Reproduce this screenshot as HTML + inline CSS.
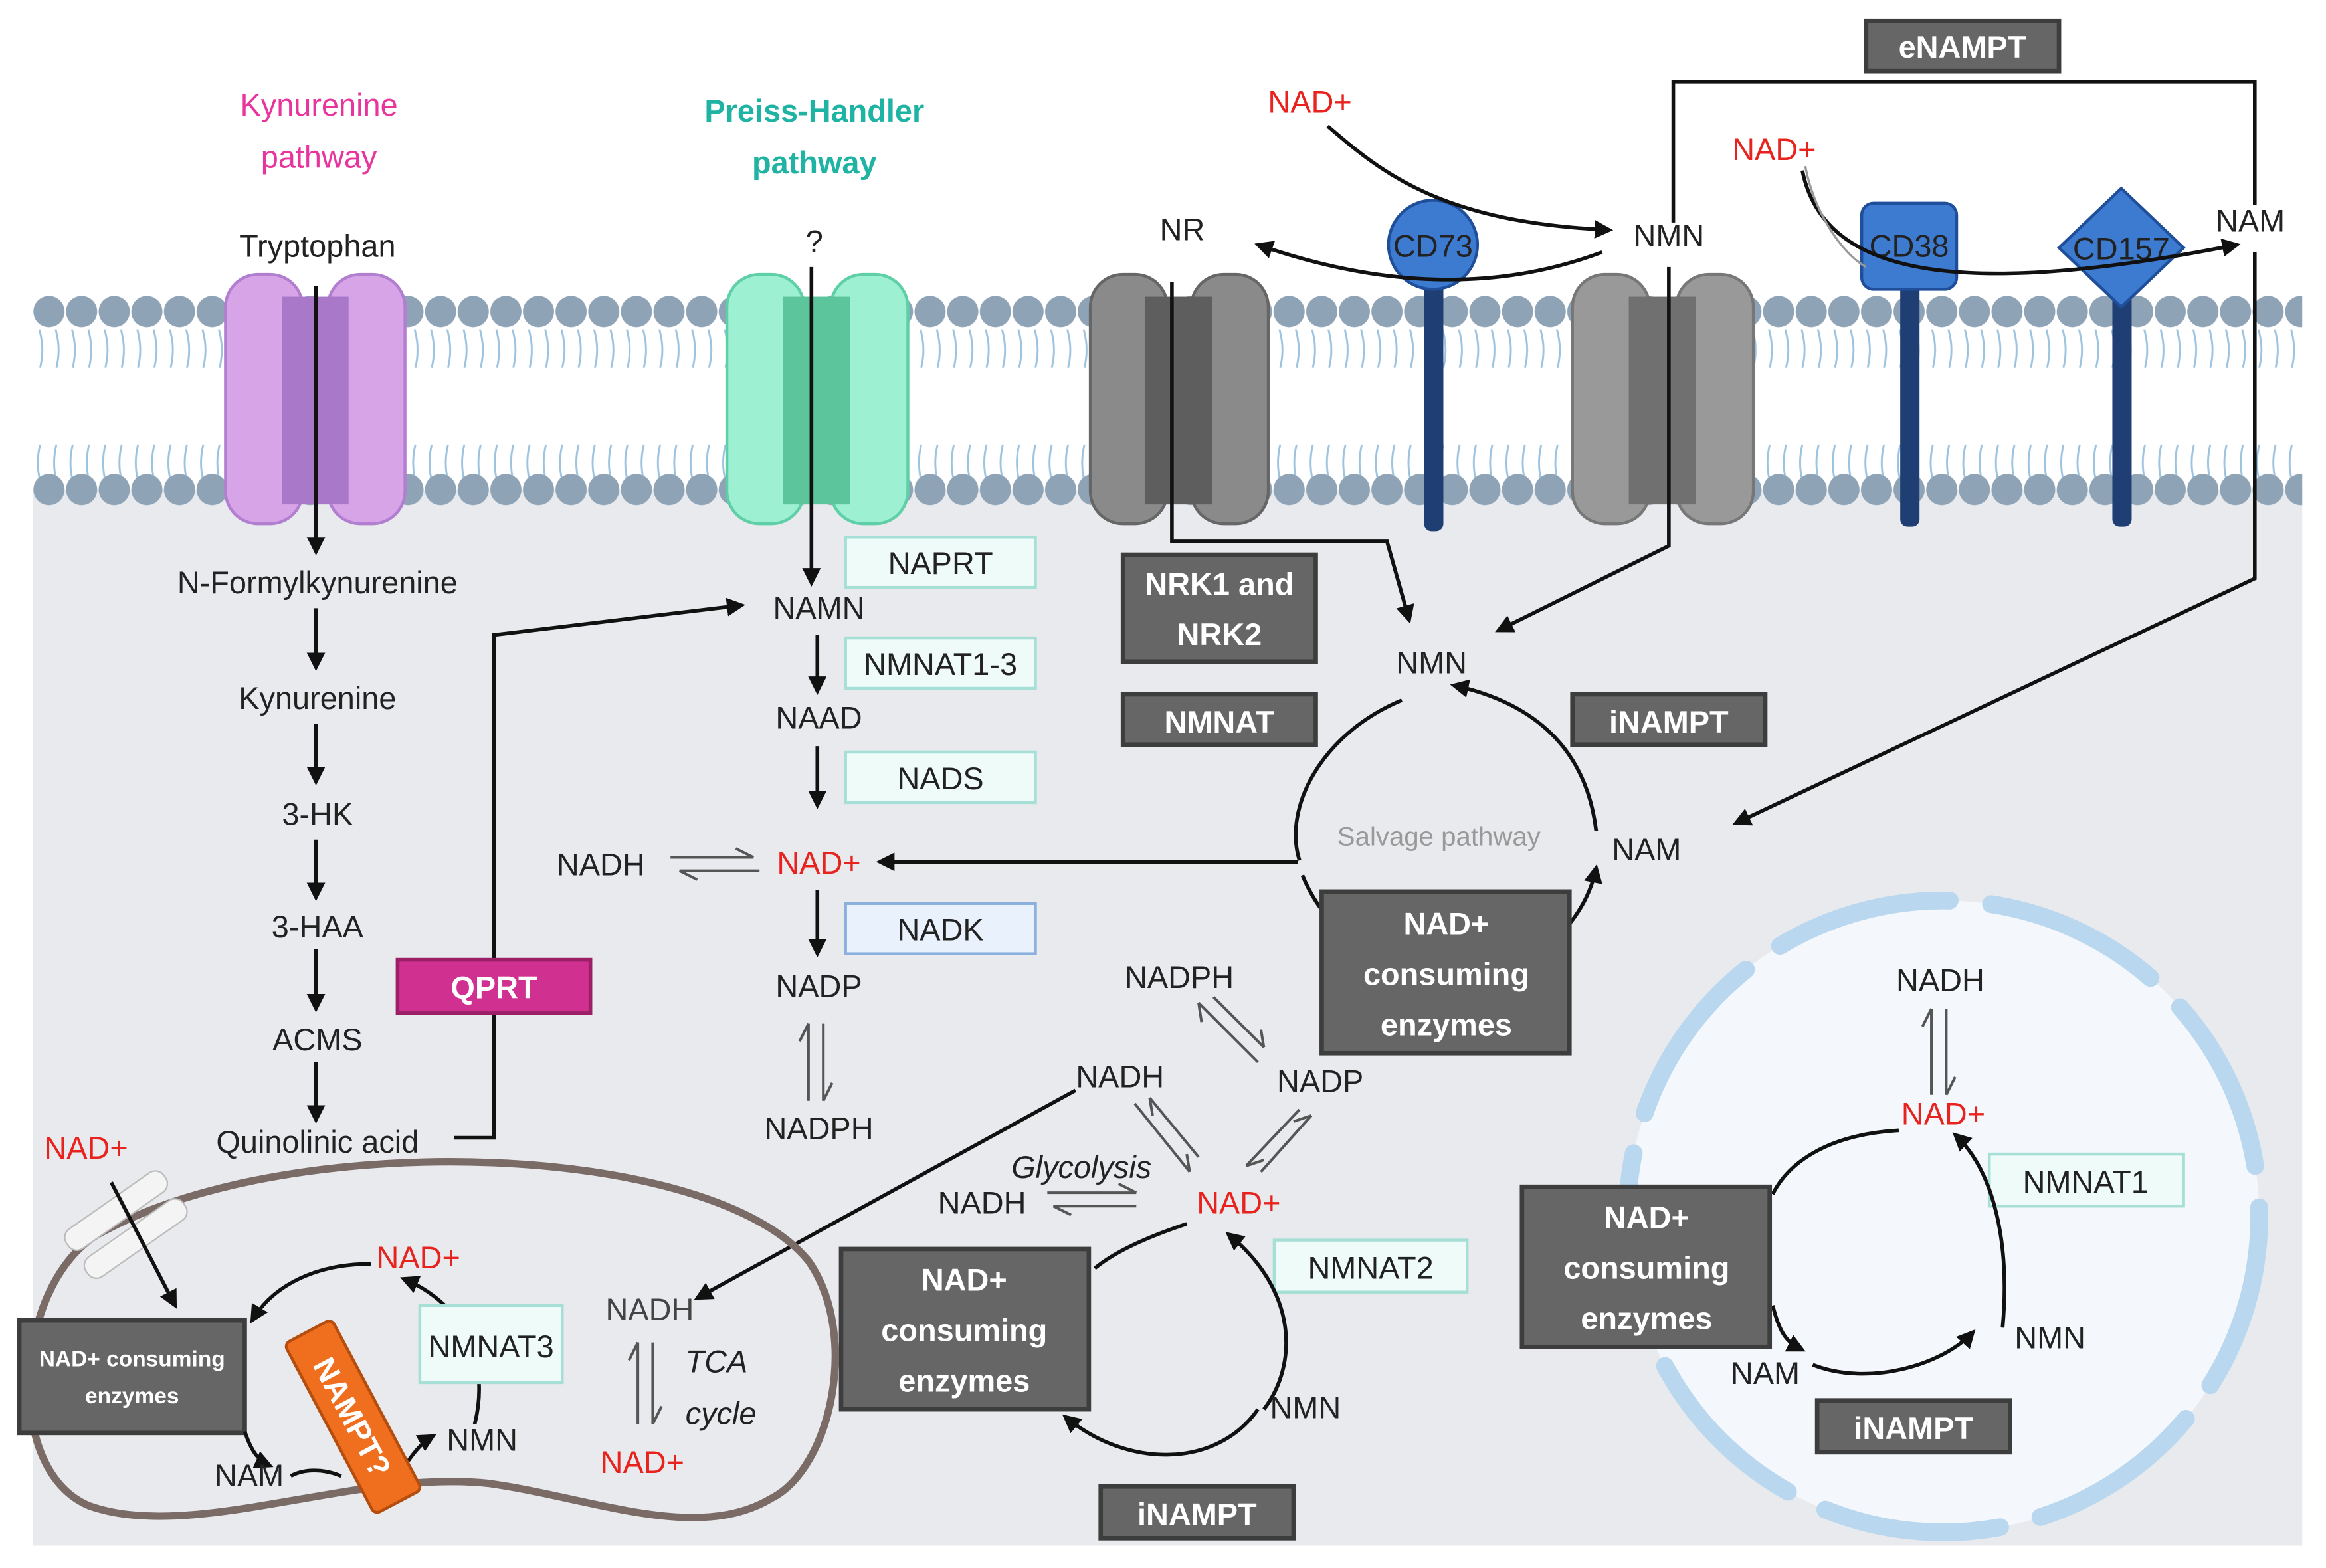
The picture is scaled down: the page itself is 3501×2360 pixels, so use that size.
<!DOCTYPE html>
<html><head><meta charset="utf-8"><style>
html,body{margin:0;padding:0;background:#fff}
svg{display:block}
text{font-family:"Liberation Sans",sans-serif}
.t{font-size:21px;fill:#222}
.r{font-size:21px;fill:#e8231e}
.w{font-size:21px;fill:#fff;font-weight:bold}
.db{fill:#666;stroke:#3d3d3d;stroke-width:3}
.lb{fill:#effbf9;stroke:#a6dfd5;stroke-width:2}
.ar{stroke:#111;stroke-width:2.5;fill:none}
</style></head><body>
<svg width="3501" height="2360" viewBox="0 0 1568 1057" xmlns="http://www.w3.org/2000/svg">
<defs>
<marker id="a" viewBox="0 0 10 10" refX="8" refY="5" markerWidth="5" markerHeight="5" orient="auto"><path d="M0,0L10,5L0,10z" fill="#111"/></marker>
<pattern id="heads" x="22" y="195" width="22" height="150" patternUnits="userSpaceOnUse"><circle cx="11" cy="15" r="10.5" fill="#8fa3b6"/><circle cx="11" cy="135" r="10.5" fill="#8fa3b6"/></pattern>
<pattern id="tails" x="22" y="0" width="11" height="100" patternUnits="userSpaceOnUse"><path d="M5,0 Q2,12 5,24 Q8,36 5,48" stroke="#9cc3e0" stroke-width="1.3" fill="none"/></pattern>
</defs>
<rect x="22" y="330" width="1530" height="712" fill="#e8eaed"/>
<!-- membrane -->
<rect x="22" y="222" width="1530" height="48" fill="url(#tails)"/>
<rect x="22" y="274" width="1530" height="48" fill="url(#tails)"/>
<rect x="22" y="195" width="1530" height="150" fill="url(#heads)"/>
<!-- transporters -->
<g><rect x="152" y="185" width="52" height="168" rx="22" fill="#d8a4e8" stroke="#b27fd0" stroke-width="2"/><rect x="221" y="185" width="52" height="168" rx="22" fill="#d8a4e8" stroke="#b27fd0" stroke-width="2"/><rect x="190" y="200" width="45" height="140" fill="#a978c9"/></g>
<g><rect x="490" y="185" width="52" height="168" rx="22" fill="#9ef0d3" stroke="#5fcfa8" stroke-width="2"/><rect x="560" y="185" width="52" height="168" rx="22" fill="#9ef0d3" stroke="#5fcfa8" stroke-width="2"/><rect x="528" y="200" width="45" height="140" fill="#5cc59c"/></g>
<g><rect x="735" y="185" width="52" height="168" rx="22" fill="#8a8a8a" stroke="#666" stroke-width="2"/><rect x="803" y="185" width="52" height="168" rx="22" fill="#8a8a8a" stroke="#666" stroke-width="2"/><rect x="772" y="200" width="45" height="140" fill="#5e5e5e"/></g>
<g><rect x="1060" y="185" width="52" height="168" rx="22" fill="#999" stroke="#777" stroke-width="2"/><rect x="1130" y="185" width="52" height="168" rx="22" fill="#999" stroke="#777" stroke-width="2"/><rect x="1098" y="200" width="45" height="140" fill="#707070"/></g>
<!-- CD proteins -->
<rect x="960" y="180" width="13" height="178" rx="5" fill="#1f3e73"/>
<circle cx="966" cy="165" r="30" fill="#3d7bd0" stroke="#1f4f9a" stroke-width="2"/>
<text x="966" y="173" class="t" text-anchor="middle">CD73</text>
<rect x="1281" y="185" width="13" height="170" rx="5" fill="#1f3e73"/>
<rect x="1255" y="137" width="64" height="58" rx="8" fill="#3d7bd0" stroke="#1f4f9a" stroke-width="2"/>
<text x="1287" y="173" class="t" text-anchor="middle">CD38</text>
<rect x="1424" y="195" width="13" height="160" rx="5" fill="#1f3e73"/>
<path d="M1430,127 L1472,167 L1430,207 L1388,167z" fill="#3d7bd0" stroke="#1f4f9a" stroke-width="2"/>
<text x="1430" y="175" class="t" text-anchor="middle">CD157</text>
<!-- headings -->
<text x="215" y="78" font-size="21" fill="#e8359d" text-anchor="middle">Kynurenine</text>
<text x="215" y="113" font-size="21" fill="#e8359d" text-anchor="middle">pathway</text>
<text x="549" y="82" font-size="21" fill="#1fb3a3" font-weight="bold" text-anchor="middle">Preiss-Handler</text>
<text x="549" y="117" font-size="21" fill="#1fb3a3" font-weight="bold" text-anchor="middle">pathway</text>
<text x="214" y="173" class="t" text-anchor="middle">Tryptophan</text>
<text x="549" y="170" class="t" text-anchor="middle">?</text>
<!-- eNAMPT -->
<rect x="1258" y="14" width="130" height="34" class="db"/>
<text x="1323" y="39" class="w" text-anchor="middle">eNAMPT</text>
<path d="M1128,150 V55 H1520 V138" class="ar"/>
<text x="1517" y="156" class="t" text-anchor="middle">NAM</text>
<path d="M1520,170 V390 L1170,555" class="ar" marker-end="url(#a)"/>
<text x="883" y="76" class="r" text-anchor="middle">NAD+</text>
<text x="1196" y="108" class="r" text-anchor="middle">NAD+</text>
<path d="M895,85 C930,115 970,150 1085,155" class="ar" marker-end="url(#a)"/>
<text x="1125" y="166" class="t" text-anchor="middle">NMN</text>
<text x="797" y="162" class="t" text-anchor="middle">NR</text>
<path d="M1080,170 C1000,200 920,190 848,165" class="ar" marker-end="url(#a)"/>
<path d="M1215,115 C1230,190 1330,200 1508,165" stroke="#111" stroke-width="2.5" fill="none" marker-end="url(#a)"/>
<path d="M1217,112 C1222,140 1240,170 1258,180" stroke="#999" stroke-width="1.5" fill="none"/>
<!-- kynurenine chain -->
<path d="M213,193 V372" class="ar" marker-end="url(#a)"/>
<text x="214" y="400" class="t" text-anchor="middle">N-Formylkynurenine</text>
<path d="M213,410 V450" class="ar" marker-end="url(#a)"/>
<text x="214" y="478" class="t" text-anchor="middle">Kynurenine</text>
<path d="M213,488 V527" class="ar" marker-end="url(#a)"/>
<text x="214" y="556" class="t" text-anchor="middle">3-HK</text>
<path d="M213,566 V605" class="ar" marker-end="url(#a)"/>
<text x="214" y="632" class="t" text-anchor="middle">3-HAA</text>
<path d="M213,640 V680" class="ar" marker-end="url(#a)"/>
<text x="214" y="708" class="t" text-anchor="middle">ACMS</text>
<path d="M213,716 V755" class="ar" marker-end="url(#a)"/>
<text x="214" y="777" class="t" text-anchor="middle">Quinolinic acid</text>
<path d="M306,767 H333 V428 L500,408" class="ar" marker-end="url(#a)"/>
<rect x="268" y="647" width="130" height="36" fill="#d0308f" stroke="#9a1f66" stroke-width="2.5"/>
<text x="333" y="673" class="w" text-anchor="middle">QPRT</text>
<!-- Preiss-Handler chain -->
<path d="M547,180 V393" class="ar" marker-end="url(#a)"/>
<rect x="570" y="362" width="128" height="34" class="lb"/><text x="634" y="387" class="t" text-anchor="middle">NAPRT</text>
<text x="552" y="417" class="t" text-anchor="middle">NAMN</text>
<path d="M551,428 V466" class="ar" marker-end="url(#a)"/>
<rect x="570" y="430" width="128" height="34" class="lb"/><text x="634" y="455" class="t" text-anchor="middle">NMNAT1-3</text>
<text x="552" y="491" class="t" text-anchor="middle">NAAD</text>
<path d="M551,503 V543" class="ar" marker-end="url(#a)"/>
<rect x="570" y="507" width="128" height="34" class="lb"/><text x="634" y="532" class="t" text-anchor="middle">NADS</text>
<text x="552" y="589" class="r" text-anchor="middle">NAD+</text>
<text x="405" y="590" class="t" text-anchor="middle">NADH</text>
<path d="M452,578 H508 M496,572 L508,578 M458,587 H512 M458,587 L470,593" stroke="#555" stroke-width="1.8" fill="none"/>
<path d="M551,600 V643" class="ar" marker-end="url(#a)"/>
<rect x="570" y="609" width="128" height="34" fill="#e8f1fc" stroke="#8cb0dd" stroke-width="2"/><text x="634" y="634" class="t" text-anchor="middle">NADK</text>
<text x="552" y="672" class="t" text-anchor="middle">NADP</text>
<path d="M545,690 V742 M545,690 L539,702 M555,690 V742 M555,742 L561,730" stroke="#555" stroke-width="1.8" fill="none"/>
<text x="552" y="768" class="t" text-anchor="middle">NADPH</text>
<path d="M875,581 H593" class="ar" marker-end="url(#a)"/>
<!-- salvage -->
<path d="M790,190 V365 H935 L950,418" class="ar" marker-end="url(#a)"/>
<path d="M1125,180 V368 L1010,425" class="ar" marker-end="url(#a)"/>
<rect x="757" y="374" width="130" height="72" class="db"/>
<text x="822" y="401" class="w" text-anchor="middle">NRK1 and</text><text x="822" y="435" class="w" text-anchor="middle">NRK2</text>
<text x="965" y="454" class="t" text-anchor="middle">NMN</text>
<rect x="757" y="468" width="130" height="34" class="db"/><text x="822" y="494" class="w" text-anchor="middle">NMNAT</text>
<rect x="1060" y="468" width="130" height="34" class="db"/><text x="1125" y="494" class="w" text-anchor="middle">iNAMPT</text>
<path d="M945,472 C890,495 865,545 876,580" class="ar"/>
<path d="M1076,560 C1070,510 1040,475 980,462" class="ar" marker-end="url(#a)"/>
<path d="M878,590 C890,620 915,640 935,650" class="ar"/>
<path d="M1040,640 C1060,625 1072,605 1076,585" class="ar" marker-end="url(#a)"/>
<text x="970" y="570" font-size="18" fill="#999" text-anchor="middle">Salvage pathway</text>
<text x="1110" y="580" class="t" text-anchor="middle">NAM</text>
<rect x="891" y="601" width="167" height="109" class="db"/>
<text x="975" y="630" class="w" text-anchor="middle">NAD+</text><text x="975" y="664" class="w" text-anchor="middle">consuming</text><text x="975" y="698" class="w" text-anchor="middle">enzymes</text>
<!-- cytosol NADP cycle -->
<text x="795" y="666" class="t" text-anchor="middle">NADPH</text>
<path d="M808,676 L848,716 M808,676 L810,689 M818,672 L852,706 M852,706 L850,694" stroke="#555" stroke-width="1.8" fill="none"/>
<text x="890" y="736" class="t" text-anchor="middle">NADP</text>
<text x="755" y="733" class="t" text-anchor="middle">NADH</text>
<path d="M876,748 L840,786 M840,786 L852,782 M884,752 L850,790 M884,752 L872,756" stroke="#555" stroke-width="1.8" fill="none"/>
<path d="M765,744 L802,790 M802,790 L800,778 M775,740 L808,780 M775,740 L777,752" stroke="#555" stroke-width="1.8" fill="none"/>
<text x="729" y="794" font-size="21" font-style="italic" fill="#222" text-anchor="middle">Glycolysis</text>
<text x="662" y="818" class="t" text-anchor="middle">NADH</text>
<path d="M706,804 H766 M754,798 L766,804 M710,813 H766 M710,813 L722,819" stroke="#555" stroke-width="1.8" fill="none"/>
<text x="835" y="818" class="r" text-anchor="middle">NAD+</text>
<path d="M725,735 L470,875" class="ar" marker-end="url(#a)"/>
<rect x="859" y="836" width="130" height="35" class="lb"/><text x="924" y="862" class="t" text-anchor="middle">NMNAT2</text>
<path d="M800,825 C770,835 750,845 738,855" class="ar"/>
<path d="M852,950 C875,920 875,870 828,832" class="ar" marker-end="url(#a)"/>
<path d="M848,950 C820,990 760,990 718,955" class="ar" marker-end="url(#a)"/>
<text x="880" y="956" class="t" text-anchor="middle">NMN</text>
<rect x="567" y="842" width="167" height="108" class="db"/>
<text x="650" y="870" class="w" text-anchor="middle">NAD+</text><text x="650" y="904" class="w" text-anchor="middle">consuming</text><text x="650" y="938" class="w" text-anchor="middle">enzymes</text>
<rect x="742" y="1002" width="130" height="35" class="db"/><text x="807" y="1028" class="w" text-anchor="middle">iNAMPT</text>
<!-- mitochondrion -->
<path d="M70,830 C200,760 480,770 545,850 C580,900 560,990 520,1010 C470,1040 400,1010 330,1000 C240,990 130,1040 60,1015 C0,990 10,860 70,830z" fill="none" stroke="#7b6b66" stroke-width="5"/>
<text x="58" y="781" class="r" text-anchor="middle">NAD+</text>
<g transform="rotate(-35 88 830)"><rect x="48" y="805" width="80" height="16" rx="7" fill="#f4f4f4" stroke="#bbb"/><rect x="48" y="828" width="80" height="16" rx="7" fill="#f4f4f4" stroke="#bbb"/></g>
<path d="M75,797 L118,880" class="ar" marker-end="url(#a)"/>
<text x="282" y="855" class="r" text-anchor="middle">NAD+</text>
<rect x="13" y="890" width="152" height="76" class="db"/>
<text x="89" y="921" font-size="15" fill="#fff" font-weight="bold" text-anchor="middle">NAD+ consuming</text>
<text x="89" y="946" font-size="15" fill="#fff" font-weight="bold" text-anchor="middle">enzymes</text>
<path d="M250,852 C215,852 185,865 170,890" class="ar" marker-end="url(#a)"/>
<path d="M165,965 C170,980 175,985 182,988" class="ar" marker-end="url(#a)"/>
<text x="168" y="1002" class="t" text-anchor="middle">NAM</text>
<path d="M196,995 C205,990 218,990 230,995" class="ar"/>
<path d="M275,985 C280,978 285,972 292,968" class="ar" marker-end="url(#a)"/>
<text x="325" y="978" class="t" text-anchor="middle">NMN</text>
<path d="M320,960 C330,920 315,880 272,862" class="ar" marker-end="url(#a)"/>
<rect x="283" y="880" width="96" height="52" class="lb"/><text x="331" y="915" class="t" text-anchor="middle">NMNAT3</text>
<g transform="rotate(62 238 955)"><rect x="173" y="937" width="130" height="36" rx="4" fill="#ef6f1f" stroke="#b54d0f" stroke-width="2"/><text x="238" y="963" class="w" text-anchor="middle">NAMPT?</text></g>
<text x="438" y="890" font-size="21" fill="#444" text-anchor="middle">NADH</text>
<path d="M430,905 V960 M430,905 L424,917 M440,905 V960 M440,960 L446,948" stroke="#555" stroke-width="1.8" fill="none"/>
<text x="483" y="925" font-size="21" font-style="italic" fill="#222" text-anchor="middle">TCA</text>
<text x="486" y="960" font-size="21" font-style="italic" fill="#222" text-anchor="middle">cycle</text>
<text x="433" y="993" class="r" text-anchor="middle">NAD+</text>
<!-- nucleus -->
<circle cx="1310" cy="820" r="213" fill="#f4f8fc"/>
<circle cx="1310" cy="820" r="213" fill="none" stroke="#b9d7ee" stroke-width="12" stroke-dasharray="120 28" stroke-linecap="round"/>
<text x="1308" y="668" class="t" text-anchor="middle">NADH</text>
<path d="M1302,680 V738 M1302,680 L1296,692 M1312,680 V738 M1312,738 L1318,726" stroke="#555" stroke-width="1.8" fill="none"/>
<text x="1310" y="758" class="r" text-anchor="middle">NAD+</text>
<rect x="1341" y="778" width="131" height="35" class="lb"/><text x="1406" y="804" class="t" text-anchor="middle">NMNAT1</text>
<path d="M1280,762 C1230,765 1205,785 1195,805" class="ar"/>
<path d="M1350,895 C1355,840 1345,790 1318,765" class="ar" marker-end="url(#a)"/>
<text x="1382" y="909" class="t" text-anchor="middle">NMN</text>
<path d="M1195,880 C1200,900 1205,905 1215,910" class="ar" marker-end="url(#a)"/>
<text x="1190" y="933" class="t" text-anchor="middle">NAM</text>
<path d="M1222,920 C1260,935 1310,920 1330,898" class="ar" marker-end="url(#a)"/>
<rect x="1026" y="800" width="167" height="108" class="db"/>
<text x="1110" y="828" class="w" text-anchor="middle">NAD+</text><text x="1110" y="862" class="w" text-anchor="middle">consuming</text><text x="1110" y="896" class="w" text-anchor="middle">enzymes</text>
<rect x="1225" y="944" width="130" height="35" class="db"/><text x="1290" y="970" class="w" text-anchor="middle">iNAMPT</text>
</svg>
</body></html>
